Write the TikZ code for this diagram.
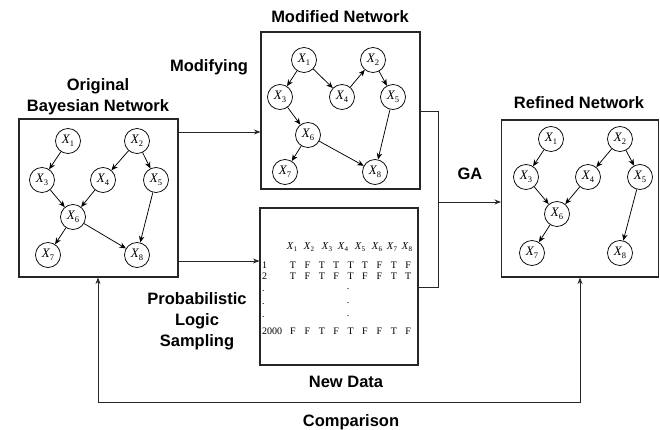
\documentclass[tikz,border=0pt]{standalone}
\usepackage{fontspec}
\setmainfont{Liberation Serif}
\newfontfamily\titlefont{Liberation Sans}
\usetikzlibrary{arrows.meta}

% variable label X with upright subscript
\newcommand{\xvar}[1]{\textit{X}\kern-0.3pt\raisebox{-0.5ex}{\fontsize{8.5}{8.5}\selectfont #1}}
\newcommand{\xsmall}[1]{\textit{X}\kern-0.2pt\raisebox{-0.5ex}{\fontsize{7}{7}\selectfont #1}}

\tikzset{
  panel/.style={draw=black!85, line width=1.1pt, inner sep=0pt},
  var/.style={circle, draw=black, line width=0.75pt, minimum size=25pt, inner sep=0pt,
              font=\fontsize{13}{13}\selectfont},
  edge/.style={-{Stealth[length=6.5pt,width=5.5pt]}, line width=0.75pt},
  flow/.style={line width=0.8pt, draw=black!85},
  flowarr/.style={flow, -{Stealth[length=6.5pt,width=5pt]}},
  title/.style={font=\titlefont\bfseries\fontsize{16.5}{21}\selectfont, align=center},
  cell/.style={font=\fontsize{10}{10}\selectfont, inner sep=0pt},
  head/.style={font=\fontsize{10.5}{10.5}\selectfont, inner sep=0pt},
}

\begin{document}
\begin{tikzpicture}[x=1pt, y=-1pt]
\useasboundingbox (0,0) rectangle (660,430);

% ---------------- panels ----------------
\node[panel, minimum width=159pt, minimum height=158pt] (orig) at (98.5,198) {};
\node[panel, minimum width=159pt, minimum height=157pt] (mod)  at (340.5,110.5) {};
\node[panel, minimum width=158pt, minimum height=157pt] (data) at (339,286.5) {};
\node[panel, minimum width=157pt, minimum height=157pt] (ref)  at (580,198.5) {};

% ---------------- titles ----------------
\node[title] (tOrig) at (98,97) {Original\\Bayesian Network};
\node[title] (tModifying) at (209,67) {Modifying};
\node[title] (tMod) at (340,17) {Modified Network};
\node[title] (tGA) at (470,174) {GA};
\node[title] (tRef) at (579,103) {Refined Network};
\node[title] (tPLS) at (197,321) {Probabilistic\\Logic\\Sampling};
\node[title] (tNew) at (346,382) {New Data};
\node[title] (tCmp) at (351,422) {Comparison};

% ---------------- original network ----------------
\node[var] (o1) at (68,141) {\xvar{1}};
\node[var] (o2) at (137,141) {\xvar{2}};
\node[var] (o3) at (42,180) {\xvar{3}};
\node[var] (o4) at (103,180) {\xvar{4}};
\node[var] (o5) at (156,180) {\xvar{5}};
\node[var] (o6) at (73,217) {\xvar{6}};
\node[var] (o7) at (48,255) {\xvar{7}};
\node[var] (o8) at (137,255) {\xvar{8}};
\draw[edge] (o1) -- (o3);
\draw[edge] (o2) -- (o4);
\draw[edge] (o2) -- (o5);
\draw[edge] (o3) -- (o6);
\draw[edge] (o4) -- (o6);
\draw[edge] (o6) -- (o7);
\draw[edge] (o6) -- (o8);
\draw[edge] (o5) -- (o8);

% ---------------- modified network ----------------
\node[var] (m1) at (304,60) {\xvar{1}};
\node[var] (m2) at (373,60) {\xvar{2}};
\node[var] (m3) at (280,97) {\xvar{3}};
\node[var] (m4) at (342,97) {\xvar{4}};
\node[var] (m5) at (393,97) {\xvar{5}};
\node[var] (m6) at (308,135) {\xvar{6}};
\node[var] (m7) at (285,172) {\xvar{7}};
\node[var] (m8) at (375,172) {\xvar{8}};
\draw[edge] (m1) -- (m3);
\draw[edge] (m1) -- (m4);
\draw[edge] (m4) -- (m2);
\draw[edge] (m2) -- (m5);
\draw[edge] (m3) -- (m6);
\draw[edge] (m6) -- (m7);
\draw[edge] (m6) -- (m8);
\draw[edge] (m5) -- (m8);

% ---------------- refined network ----------------
\node[var] (r1) at (551,139) {\xvar{1}};
\node[var] (r2) at (620,139) {\xvar{2}};
\node[var] (r3) at (526,177) {\xvar{3}};
\node[var] (r4) at (588,177) {\xvar{4}};
\node[var] (r5) at (640,177) {\xvar{5}};
\node[var] (r6) at (557,214) {\xvar{6}};
\node[var] (r7) at (532,253) {\xvar{7}};
\node[var] (r8) at (620,253) {\xvar{8}};
\draw[edge] (r1) -- (r3);
\draw[edge] (r2) -- (r4);
\draw[edge] (r2) -- (r5);
\draw[edge] (r3) -- (r6);
\draw[edge] (r4) -- (r6);
\draw[edge] (r6) -- (r7);
\draw[edge] (r5) -- (r8);

% ---------------- sampled data table ----------------
\foreach \i/\x in {1/292,2/309,3/327,4/343,5/360,6/377,7/392,8/407}
  \node[head] (h\i) at (\x,247) {\xsmall{\i}};
\node[cell, anchor=west] (rowA) at (262,265) {1};
\node[cell, anchor=west] (rowB) at (262,276) {2};
\node[cell, anchor=west] (rowC) at (262,331) {2000};
\foreach \v [count=\i] in {T,F,T,T,T,T,F,T,F}
  \coordinate (cx\i) at ({293+14.4*(\i-1)},0);
\foreach \v [count=\i] in {T,F,T,T,T,T,F,T,F}
  \node[cell] (a\i) at (cx\i |- rowA) {\v};
\foreach \v [count=\i] in {T,F,T,F,T,F,F,T,T}
  \node[cell] (b\i) at (cx\i |- rowB) {\v};
\foreach \v [count=\i] in {F,F,T,F,T,F,F,T,F}
  \node[cell] (c\i) at (cx\i |- rowC) {\v};
\foreach \y [count=\i] in {291,304,317}
  \node[cell, anchor=west] (dl\i) at (262,\y) {.};
\foreach \y [count=\i] in {289,303,316}
  \node[cell] (dm\i) at (348,\y) {.};

% ---------------- flow connectors ----------------
\coordinate (jn) at (438,202);
\draw[flowarr] (orig.east |- 0,132) -- (mod.west |- 0,132);
\draw[flowarr] (orig.east |- 0,261) -- (data.west |- 0,261);
\draw[flow] (mod.east |- 0,111) -| (jn |- 0,287) -- (data.east |- 0,287);
\draw[flowarr] (jn) -- (ref.west |- jn);

\coordinate (cmpL) at (98,402);
\coordinate (cmpR) at (580,402);
\draw[flow, {Stealth[length=6.5pt,width=5pt]}-{Stealth[length=6.5pt,width=5pt]}]
  (orig.south -| cmpL) -- (cmpL) -- (cmpR) -- (ref.south -| cmpR);
\end{tikzpicture}
\end{document}
